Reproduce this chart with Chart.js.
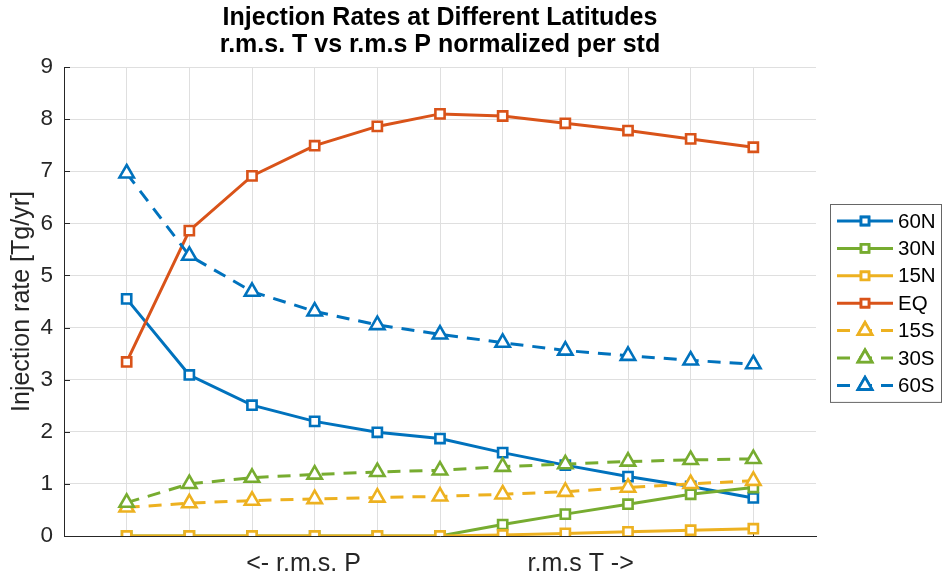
<!DOCTYPE html>
<html>
<head>
<meta charset="utf-8">
<script src="https://cdn.jsdelivr.net/npm/chart.js@4"></script>
<style>
  html, body { margin: 0; padding: 0; background: #fff; }
</style>
</head>
<body>
<canvas id="rateChart" width="942" height="581"></canvas>
<script>
// x positions of the experiments (x axis runs 0..12)
const positions = [1, 2, 3, 4, 5, 6, 7, 8, 9, 10, 11];

// injection rates [Tg/yr]
const rate60N = [4.55, 3.09, 2.51, 2.20, 1.99, 1.87, 1.60, 1.36, 1.14, 0.95, 0.73];
const rate30N = [0, 0, 0, 0, 0, 0, 0.22, 0.42, 0.61, 0.80, 0.93];
const rate15N = [0, 0, 0, 0, 0, 0, 0.02, 0.05, 0.08, 0.11, 0.14];
const rateEQ = [3.34, 5.86, 6.91, 7.49, 7.86, 8.10, 8.06, 7.92, 7.78, 7.62, 7.46];
const rate15S = [0.55, 0.63, 0.68, 0.71, 0.74, 0.76, 0.80, 0.85, 0.93, 1.00, 1.06];
const rate30S = [0.64, 1.00, 1.12, 1.18, 1.23, 1.26, 1.33, 1.38, 1.43, 1.46, 1.48];
const rate60S = [6.96, 5.38, 4.69, 4.31, 4.05, 3.87, 3.71, 3.56, 3.46, 3.37, 3.30];

const yTicks = [0, 1, 2, 3, 4, 5, 6, 7, 8, 9];

const titleLines = [
  "Injection Rates at Different Latitudes",
  "r.m.s. T vs r.m.s P normalized per std",
];

const BLUE = "#0072bd";
const GREEN = "#77ac30";
const YELLOW = "#edb120";
const ORANGE = "#d95319";
const AXIS = "#262626";
const FONT = "'Liberation Sans', Arial, sans-serif";

Chart.defaults.font.family = FONT;
Chart.defaults.color = AXIS;

function series(label, values, color, dashed, idx) {
  return {
    label: label,
    data: values.map((v, i) => ({ x: positions[i], y: v })),
    borderColor: color,
    backgroundColor: color,
    borderWidth: 3,
    borderDash: dashed ? [13, 9] : [],
    borderCapStyle: "butt",
    pointStyle: dashed ? "triangle" : "rect",
    pointRadius: dashed ? 8.3 : 6.5,
    pointBorderWidth: 2.6,
    pointBackgroundColor: "#fff",
    pointBorderColor: color,
    tension: 0,
    order: 10 - idx, // later series drawn on top, like matlab
  };
}

const datasets = [
  series("60N", rate60N, BLUE, false, 0),
  series("30N", rate30N, GREEN, false, 1),
  series("15N", rate15N, YELLOW, false, 2),
  series("EQ", rateEQ, ORANGE, false, 3),
  series("15S", rate15S, YELLOW, true, 4),
  series("30S", rate30S, GREEN, true, 5),
  series("60S", rate60S, BLUE, true, 6),
];

// matlab style ticks pointing into the axes
const inwardTicks = {
  id: "inwardTicks",
  beforeDatasetsDraw(chart) {
    const { ctx, chartArea, scales } = chart;
    ctx.save();
    ctx.strokeStyle = AXIS;
    ctx.lineWidth = 1;
    ctx.beginPath();
    yTicks.forEach((v) => {
      const y = Math.round(scales.y.getPixelForValue(v)) + 0.5;
      ctx.moveTo(chartArea.left, y);
      ctx.lineTo(chartArea.left + 6, y);
    });
    positions.forEach((v) => {
      const x = Math.round(scales.x.getPixelForValue(v)) + 0.5;
      ctx.moveTo(x, chartArea.bottom);
      ctx.lineTo(x, chartArea.bottom - 6);
    });
    ctx.stroke();
    ctx.restore();
  },
};

// title centred over the axes, not the whole canvas
const axesTitle = {
  id: "axesTitle",
  afterDraw(chart) {
    const { ctx, chartArea } = chart;
    const cx = (chartArea.left + chartArea.right) / 2;
    ctx.save();
    ctx.fillStyle = "#000";
    ctx.font = "bold 25px " + FONT;
    ctx.textAlign = "center";
    ctx.textBaseline = "middle";
    titleLines.forEach((line, i) => {
      ctx.fillText(line, cx, 18 + i * 27);
    });
    ctx.restore();
  },
};

// boxed legend with line + marker samples
const boxLegend = {
  id: "boxLegend",
  afterDraw(chart) {
    const ctx = chart.ctx;
    const left = 830.5, top = 204.5, right = 941.5;
    const rowH = 27.4, first = 221;
    const bottom = first + rowH * (datasets.length - 1) + 17;
    ctx.save();
    ctx.fillStyle = "#fff";
    ctx.fillRect(left, top, right - left, bottom - top);
    ctx.strokeStyle = "#666";
    ctx.lineWidth = 1;
    ctx.strokeRect(left, top, right - left, bottom - top);
    chart.data.datasets.forEach((ds, i) => {
      const y = first + i * rowH;
      ctx.strokeStyle = ds.borderColor;
      ctx.lineWidth = 3;
      ctx.setLineDash(ds.borderDash);
      ctx.beginPath();
      ctx.moveTo(837, y);
      ctx.lineTo(893, y);
      ctx.stroke();
      ctx.setLineDash([]);
      Chart.helpers.drawPoint(ctx, {
        pointStyle: ds.pointStyle,
        radius: ds.pointStyle === "triangle" ? 8 : 5.5,
        borderWidth: 2.6,
        rotation: 0,
      }, 865, y);
      ctx.fillStyle = "#fff";
      ctx.strokeStyle = ds.borderColor;
      ctx.lineWidth = 2.6;
      ctx.fill();
      ctx.stroke();
      ctx.fillStyle = "#000";
      ctx.font = "20.5px " + FONT;
      ctx.textBaseline = "middle";
      ctx.textAlign = "left";
      ctx.fillText(ds.label, 898, y + 1);
    });
    ctx.restore();
  },
};

const ctx = document.getElementById("rateChart").getContext("2d");

const rateChart = new Chart(ctx, {
  type: "line",
  data: { datasets: datasets },
  plugins: [inwardTicks, axesTitle, boxLegend],
  options: {
    responsive: false,
    devicePixelRatio: 1,
    animation: false,
    layout: { padding: { top: 67, right: 126, bottom: 0, left: 0 } },
    plugins: {
      legend: { display: false },
      tooltip: { enabled: false },
      title: { display: false },
    },
    scales: {
      x: {
        type: "linear",
        min: 0,
        max: 12,
        afterBuildTicks: (scale) => {
          scale.ticks = positions.map((v) => ({ value: v }));
        },
        afterFit: (scale) => {
          scale.height = 45;
        },
        ticks: { display: false },
        grid: { color: "#dfdfdf", lineWidth: 1, drawTicks: false },
        border: { display: true, color: AXIS, width: 1 },
        title: {
          display: true,
          text: "<- r.m.s. P" + " ".repeat(24) + "r.m.s T ->",
          font: { size: 25 },
          color: AXIS,
          padding: { top: 0, bottom: 2 },
        },
      },
      y: {
        min: 0,
        max: 9,
        afterBuildTicks: (scale) => {
          scale.ticks = yTicks.map((v) => ({ value: v }));
        },
        afterFit: (scale) => {
          scale.width = 64;
        },
        ticks: { font: { size: 22.5 }, color: AXIS, padding: 11 },
        grid: { color: "#dfdfdf", lineWidth: 1, drawTicks: false },
        border: { display: true, color: AXIS, width: 1 },
        title: {
          display: true,
          text: "Injection rate [Tg/yr]",
          font: { size: 25 },
          color: AXIS,
          padding: { top: 7, bottom: 0 },
        },
      },
    },
  },
});
</script>
</body>
</html>
